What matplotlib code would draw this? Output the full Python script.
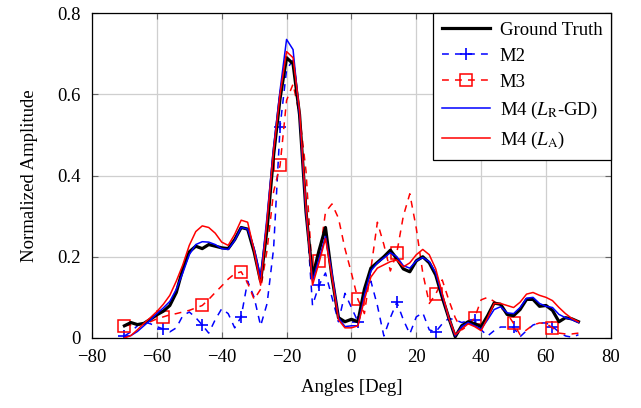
import numpy as np
import matplotlib
matplotlib.use('Agg')
import matplotlib.pyplot as plt

plt.rcParams['font.family'] = ['Liberation Serif', 'DejaVu Serif']
plt.rcParams['mathtext.fontset'] = 'stix'
plt.rcParams['font.size'] = 13.5

# angle grid, 2 deg steps
angles = np.arange(-70, 71, 2)

ground_truth = [
    0.030, 0.038, 0.033, 0.036, 0.046, 0.057, 0.066, 0.080, 0.112, 0.170,
    0.212, 0.226, 0.220, 0.230, 0.226, 0.222, 0.220, 0.242, 0.272, 0.268,
    0.212, 0.140, 0.270, 0.450, 0.590, 0.690, 0.675, 0.550, 0.310, 0.150,
    0.215, 0.272, 0.150, 0.050, 0.040, 0.046, 0.040, 0.120, 0.172, 0.186,
    0.200, 0.216, 0.195, 0.170, 0.163, 0.190, 0.200, 0.185, 0.155, 0.100,
    0.050, 0.003, 0.030, 0.040, 0.035, 0.028, 0.055, 0.086, 0.083, 0.058,
    0.055, 0.070, 0.095, 0.095, 0.078, 0.080, 0.068, 0.040, 0.050, 0.047,
    0.040]

m2 = [
    0.005, 0.015, 0.030, 0.040, 0.035, 0.028, 0.022, 0.015, 0.025, 0.055,
    0.064, 0.050, 0.032, 0.012, 0.045, 0.072, 0.060, 0.025, 0.052, 0.140,
    0.100, 0.030, 0.085, 0.220, 0.520, 0.660, 0.685, 0.550, 0.320, 0.080,
    0.130, 0.160, 0.100, 0.040, 0.110, 0.075, 0.040, 0.110, 0.140, 0.080,
    0.005, 0.050, 0.088, 0.045, 0.010, 0.052, 0.062, 0.020, 0.015, 0.035,
    0.048, 0.045, 0.038, 0.042, 0.044, 0.020, 0.005, 0.018, 0.027, 0.027,
    0.026, 0.003, 0.018, 0.032, 0.037, 0.037, 0.028, 0.015, 0.005, 0.002,
    0.008]

m3 = [
    0.030, 0.032, 0.033, 0.035, 0.040, 0.047, 0.052, 0.057, 0.060, 0.064,
    0.068, 0.074, 0.080, 0.095, 0.112, 0.128, 0.145, 0.158, 0.163, 0.135,
    0.095, 0.120, 0.217, 0.360, 0.425, 0.585, 0.625, 0.550, 0.410, 0.150,
    0.190, 0.310, 0.330, 0.295, 0.220, 0.160, 0.095, 0.060, 0.170, 0.285,
    0.230, 0.165, 0.210, 0.300, 0.355, 0.270, 0.160, 0.085, 0.108, 0.143,
    0.094, 0.050, 0.020, 0.030, 0.050, 0.094, 0.100, 0.090, 0.075, 0.060,
    0.036, 0.008, 0.020, 0.032, 0.037, 0.036, 0.025, 0.012, 0.010, 0.010,
    0.012]

m4_rgd = [
    0.002, 0.006, 0.016, 0.030, 0.044, 0.060, 0.074, 0.090, 0.120, 0.160,
    0.205, 0.230, 0.237, 0.236, 0.230, 0.220, 0.218, 0.240, 0.272, 0.268,
    0.220, 0.150, 0.300, 0.470, 0.610, 0.735, 0.710, 0.550, 0.310, 0.140,
    0.195, 0.250, 0.160, 0.050, 0.028, 0.030, 0.030, 0.105, 0.165, 0.185,
    0.197, 0.210, 0.200, 0.178, 0.172, 0.190, 0.198, 0.188, 0.160, 0.105,
    0.050, 0.005, 0.028, 0.038, 0.030, 0.022, 0.045, 0.070, 0.077, 0.062,
    0.060, 0.075, 0.098, 0.100, 0.085, 0.078, 0.075, 0.058, 0.050, 0.045,
    0.038]

m4_la = [
    0.000, 0.006, 0.020, 0.036, 0.050, 0.065, 0.083, 0.105, 0.140, 0.180,
    0.228, 0.262, 0.276, 0.272, 0.258, 0.236, 0.228, 0.255, 0.290, 0.285,
    0.215, 0.130, 0.290, 0.460, 0.600, 0.705, 0.690, 0.560, 0.320, 0.130,
    0.185, 0.245, 0.150, 0.045, 0.025, 0.025, 0.030, 0.094, 0.150, 0.172,
    0.180, 0.188, 0.192, 0.175, 0.185, 0.205, 0.218, 0.205, 0.170, 0.110,
    0.050, 0.008, 0.022, 0.035, 0.028, 0.018, 0.050, 0.085, 0.085, 0.080,
    0.075, 0.088, 0.108, 0.112, 0.105, 0.100, 0.092, 0.075, 0.060, 0.048,
    0.040]

fig = plt.figure(figsize=(6.41, 4.08), dpi=100)
ax = fig.add_axes([0.1435, 0.1716, 0.8095, 0.7965])

ax.plot(angles, ground_truth, color='black', lw=2.3, label='Ground Truth', zorder=3)
ax.plot(angles, m2, color='blue', lw=1.1, ls=(0, (4.5, 4)), marker='+', ms=9,
        mew=1.2, markevery=6, label='M2', zorder=2)
ax.plot(angles, m3, color='red', lw=1.1, ls=(0, (4.5, 4)), marker='s', ms=9,
        mew=1.1, mfc='none', markevery=6, label='M3', zorder=2)
ax.plot(angles, m4_rgd, color='blue', lw=1.1, label=r'M4 ($L_{\mathrm{R}}$-GD)', zorder=4)
ax.plot(angles, m4_la, color='red', lw=1.1, label=r'M4 ($L_{\mathrm{A}}$)', zorder=5)

ax.set_xlim(-80, 80)
ax.set_ylim(0, 0.8)
ax.set_xticks(np.arange(-80, 81, 20))
ax.set_yticks([0, 0.2, 0.4, 0.6, 0.8])
ax.set_yticklabels(['0', '0.2', '0.4', '0.6', '0.8'])
ax.grid(True, color='#cfcfcf', lw=0.9)
ax.set_axisbelow(True)
ax.tick_params(direction='in', top=True, right=True, length=4,
               color='#666666', pad=8)
for sp in ax.spines.values():
    sp.set_linewidth(0.9)

ax.set_xlabel('Angles [Deg]', labelpad=9)
ax.set_ylabel('Normalized Amplitude', labelpad=14)

leg = ax.legend(loc='upper right', bbox_to_anchor=(1, 1), borderaxespad=0,
                fancybox=False, framealpha=1, edgecolor='black',
                handlelength=2.6, handletextpad=0.5, labelspacing=0.48,
                borderpad=0.45)
leg.get_frame().set_linewidth(0.9)

fig.savefig('out.png', dpi=100)
